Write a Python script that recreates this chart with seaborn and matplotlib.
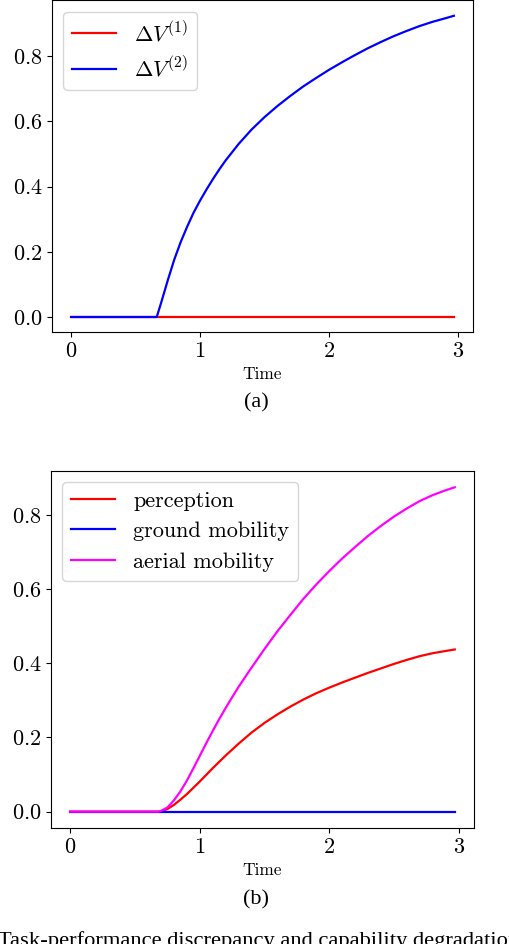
import numpy as np
import pandas as pd
import seaborn as sns
import matplotlib
matplotlib.use('Agg')
import matplotlib.pyplot as plt

# Panel (a): task-performance discrepancy
time_a = [0.0, 0.664, 0.70, 0.75, 0.80, 0.85, 0.90, 0.95, 1.00, 1.05, 1.10,
          1.15, 1.20, 1.30, 1.40, 1.50, 1.60, 1.70, 1.80, 1.90, 2.00, 2.10,
          2.20, 2.30, 2.40, 2.50, 2.60, 2.70, 2.80, 2.90, 2.97]
dv1 = [0.0] * len(time_a)
dv2 = [0.0, 0.0, 0.046, 0.113, 0.176, 0.230, 0.277, 0.320, 0.357, 0.391,
       0.423, 0.453, 0.481, 0.531, 0.575, 0.613, 0.647, 0.678, 0.707, 0.733,
       0.758, 0.781, 0.803, 0.824, 0.843, 0.861, 0.877, 0.892, 0.905, 0.916,
       0.924]

# Panel (b): capability degradation
time_b = [0.0, 0.68, 0.70, 0.75, 0.80, 0.85, 0.90, 0.95, 1.00, 1.05, 1.10,
          1.15, 1.20, 1.25, 1.30, 1.40, 1.50, 1.60, 1.70, 1.80, 1.90, 2.00,
          2.10, 2.20, 2.30, 2.40, 2.50, 2.60, 2.70, 2.80, 2.90, 2.97]
perception = [0.0, 0.0, 0.001, 0.007, 0.018, 0.032, 0.047, 0.064, 0.081,
              0.099, 0.117, 0.134, 0.151, 0.167, 0.183, 0.213, 0.239, 0.262,
              0.283, 0.302, 0.319, 0.334, 0.348, 0.361, 0.374, 0.386, 0.398,
              0.409, 0.419, 0.427, 0.433, 0.437]
ground = [0.0] * len(time_b)
aerial = [0.0, 0.0, 0.002, 0.011, 0.030, 0.054, 0.083, 0.116, 0.150, 0.184,
          0.217, 0.249, 0.279, 0.308, 0.336, 0.388, 0.438, 0.486, 0.530,
          0.573, 0.612, 0.648, 0.682, 0.713, 0.743, 0.770, 0.795, 0.817,
          0.837, 0.853, 0.866, 0.874]

df_a = pd.DataFrame({'Time': time_a, 'dv1': dv1, 'dv2': dv2})
df_b = pd.DataFrame({'Time': time_b, 'perception': perception,
                     'ground': ground, 'aerial': aerial})

plt.rcParams['font.family'] = 'cmr10'
plt.rcParams['mathtext.fontset'] = 'cm'
plt.rcParams['axes.formatter.use_mathtext'] = True
plt.rcParams['axes.unicode_minus'] = False

fig = plt.figure(figsize=(5.1, 9.44), dpi=100)
ax1 = fig.add_axes([0.102, 0.6483, 0.8255, 0.3512])
ax2 = fig.add_axes([0.100, 0.1229, 0.8294, 0.3782])

lw = 1.6

# Drawing panel (a)
sns.lineplot(data=df_a, x='Time', y='dv1', color='red', linewidth=lw,
             label=r'$\Delta V^{(1)}$', ax=ax1)
sns.lineplot(data=df_a, x='Time', y='dv2', color='blue', linewidth=lw,
             label=r'$\Delta V^{(2)}$', ax=ax1)

# Drawing panel (b)
sns.lineplot(data=df_b, x='Time', y='perception', color='red', linewidth=lw,
             label='perception', ax=ax2)
sns.lineplot(data=df_b, x='Time', y='ground', color='blue', linewidth=lw,
             label='ground mobility', ax=ax2)
sns.lineplot(data=df_b, x='Time', y='aerial', color='magenta', linewidth=lw,
             label='aerial mobility', ax=ax2)

for ax in (ax1, ax2):
    ax.set_xticks([0, 1, 2, 3])
    ax.set_yticks([0.0, 0.2, 0.4, 0.6, 0.8])
    ax.tick_params(labelsize=16)
    ax.set_xlabel('Time', fontsize=12.5)
    ax.set_ylabel('')
    ax.legend(loc='upper left', fontsize=16)

ax1.set_ylim(-0.046, 0.971)
ax2.set_ylim(-0.044, 0.918)

fig.text(0.502, 0.573, '(a)', family='Liberation Serif', fontsize=16,
         ha='center', va='center')
fig.text(0.502, 0.0466, '(b)', family='Liberation Serif', fontsize=16,
         ha='center', va='center')
fig.text(-0.004, -0.002, 'Task-performance discrepancy and capability degradation',
         family='Liberation Serif', fontsize=16.2, ha='left', va='baseline')

fig.savefig('out.png', dpi=100)
